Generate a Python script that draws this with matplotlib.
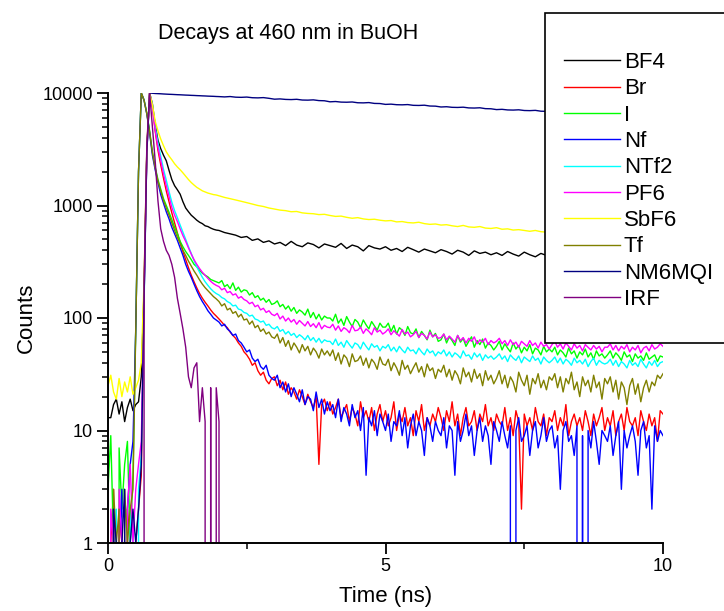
import numpy as np
import matplotlib
matplotlib.use("Agg")
from matplotlib import pyplot as plt
from matplotlib.patches import Rectangle
from matplotlib.ticker import LogLocator, NullFormatter, FixedLocator

plt.rcParams['font.family'] = ['Liberation Sans', 'DejaVu Sans']

# time channels (ns): 0.05 ns over the rise, then 0.1 ns (smooth curves)
# or 0.05 ns (noisy curves) over the tail
t_head = np.round(np.arange(0.0, 1.96, 0.05), 2)
time_ns = np.concatenate([t_head, np.round(np.arange(2.0, 10.0001, 0.1), 2)])
time_fine = np.concatenate([t_head, np.round(np.arange(2.0, 10.0001, 0.05), 2)])

labels = ["BF4", "Br", "I", "Nf", "NTf2", "PF6", "SbF6", "Tf", "NM6MQI", "IRF"]
colors = ["#000000", "#ff0000", "#00ff00", "#0000ff", "#00ffff",
          "#ff00ff", "#ffff00", "#808000", "#000080", "#800080"]

bf4 = [13, 13, 17, 19, 14, 18, 12, 16, 19, 15,
       17, 18, 30, 180, 3200, 10000, 8000, 5200, 3800, 3200,
       2800, 2500, 2050, 1700, 1500, 1380, 1260, 1080, 950, 880,
       820, 780, 740, 710, 690, 660, 650, 630, 615, 605,
       600, 575, 560, 545, 520, 530, 490, 505, 470, 485,
       455, 470, 440, 480, 445, 430, 465, 450, 420, 455,
       440, 425, 460, 415, 445, 430, 395, 440, 420, 410,
       430, 400, 415, 390, 425, 405, 385, 410, 395, 380,
       405, 390, 370, 400, 385, 360, 395, 375, 385, 365,
       380, 360, 390, 370, 355, 385, 365, 350, 375, 360,
       345, 370, 355, 340, 365, 350, 335, 360, 345, 330,
       355, 340, 325, 350, 335, 345, 320, 340, 330, 345,
       335]

br = [0, 1, 3, 0, 2, 1, 0, 2, 1, 0,
      1, 2, 4, 150, 3000, 10000, 7400, 4600, 3100, 2300,
      1750, 1350, 1080, 860, 700, 570, 470, 390, 330, 280,
      240, 210, 185, 165, 150, 138, 128, 118, 110, 104,
      98, 92, 86, 82, 75, 70, 66, 60, 56, 50, 47, 43, 38, 40, 34, 31, 33, 28, 26, 29,
      30, 25, 28, 23, 27, 21, 24, 22, 19, 23, 20, 17, 21, 18, 16, 20, 5, 17, 19, 15,
      18, 14, 16, 19, 13, 15, 17, 12, 16, 14, 11, 18, 13, 15, 12, 16, 10, 14, 17, 12,
      15, 11, 13, 18, 10, 14, 12, 16, 11, 13, 9, 15, 12, 17, 10, 13, 11, 14, 12, 16,
      13, 10, 15, 12, 18, 11, 14, 9, 13, 16, 11, 12, 15, 10, 14, 12, 17, 11, 13, 10,
      14, 12, 11, 16, 10, 13, 9, 15, 12, 2, 14, 11, 13, 10, 16, 12, 11, 14, 9, 13,
      12, 15, 10, 13, 11, 17, 9, 12, 14, 11, 13, 10, 15, 12, 9, 14, 11, 13, 16, 10,
      13, 11, 15, 9, 12, 14, 10, 16, 12, 11, 13, 9, 15, 12, 10, 14, 11, 13, 8, 15,
      14]

iodide = [3, 9, 1, 0, 7, 2, 5, 8, 1, 4,
          80, 2000, 10000, 8700, 6600, 4600, 3000, 2200, 1700, 1400,
          1150, 1000, 870, 750, 640, 560, 480, 430, 390, 360,
          330, 300, 285, 265, 250, 240, 232, 220, 215, 210,
          205, 215, 190, 198, 182, 205, 176, 188, 170, 178, 175, 160, 168, 152, 158, 144, 150, 138, 146, 132,
          135, 142, 126, 132, 120, 128, 115, 124, 110, 118, 113, 106, 120, 101, 112, 98, 108, 96, 104, 100,
          100, 94, 108, 90, 98, 86, 103, 92, 84, 97, 92, 82, 96, 87, 80, 93, 85, 78, 90, 83,
          83, 90, 76, 86, 72, 82, 78, 70, 84, 74, 72, 80, 67, 76, 70, 64, 78, 68, 73, 62,
          64, 72, 60, 68, 63, 57, 70, 61, 66, 56, 62, 68, 55, 63, 58, 65, 54, 60, 57, 52,
          56, 62, 52, 59, 54, 50, 60, 53, 57, 49, 55, 51, 58, 48, 54, 52, 47, 56, 50, 53,
          50, 55, 47, 52, 49, 45, 54, 48, 51, 44, 50, 47, 53, 45, 49, 43, 51, 46, 48, 44,
          47, 51, 44, 49, 46, 42, 50, 45, 47, 41, 48, 44, 46, 42, 49, 43, 45, 47, 41, 46,
          45]

nf = [1, 0, 2, 0, 1, 3, 0, 2, 5, 8,
      80, 2000, 10000, 8600, 6500, 4400, 2800, 2080, 1600, 1250,
      1050, 880, 760, 640, 560, 490, 420, 360, 300, 260,
      230, 200, 175, 155, 140, 128, 116, 108, 100, 96,
      92, 85, 88, 80, 76, 70, 72, 63, 60, 55, 50, 52, 44, 41, 43, 37, 35, 38, 31, 29,
      28, 31, 24, 27, 22, 26, 20, 24, 21, 18, 23, 17, 20, 19, 15, 22, 16, 19, 14, 18,
      15, 17, 13, 19, 12, 16, 14, 11, 17, 13, 15, 10, 16, 4, 13, 11, 15, 9, 14, 12,
      10, 14, 8, 12, 11, 15, 9, 13, 7, 11, 14, 9, 12, 10, 6, 13, 11, 8, 12, 10,
      9, 13, 7, 11, 10, 4, 12, 8, 10, 14, 9, 11, 6, 10, 13, 8, 11, 9, 5, 12,
      10, 8, 12, 9, 7, 11, 0, 10, 13, 8, 9, 11, 6, 10, 12, 7, 9, 13, 8, 10,
      11, 7, 9, 3, 10, 12, 8, 9, 6, 11, 0, 9, 0, 10, 7, 12, 8, 5, 10, 9,
      8, 11, 6, 9, 12, 3, 10, 7, 9, 11, 8, 4, 10, 12, 7, 9, 2, 11, 8, 10,
      9]

ntf2 = [0, 1, 0, 2, 0, 1, 1, 0, 2, 1,
        0, 3, 6, 140, 2900, 10000, 7800, 5000, 3600, 2750,
        2100, 1680, 1330, 1070, 900, 780, 670, 580, 500, 430,
        375, 325, 285, 255, 230, 210, 195, 182, 172, 165,
        160, 152, 148, 140, 136, 128, 130, 120, 118, 112, 110, 104, 106, 98, 96, 92, 94, 86, 88, 82,
        80, 84, 76, 79, 72, 76, 70, 73, 67, 71, 68, 64, 70, 63, 67, 61, 66, 60, 64, 62,
        62, 58, 65, 57, 61, 55, 63, 58, 54, 60, 58, 53, 61, 56, 52, 59, 55, 57, 51, 56,
        54, 58, 51, 55, 50, 56, 52, 49, 55, 51, 52, 48, 54, 50, 47, 53, 49, 51, 46, 50,
        48, 52, 46, 50, 45, 49, 47, 44, 51, 46, 47, 43, 49, 45, 48, 42, 47, 44, 46, 43,
        45, 48, 43, 46, 41, 47, 44, 42, 46, 40, 45, 43, 41, 46, 42, 44, 39, 45, 42, 40,
        42, 45, 40, 44, 39, 43, 41, 38, 44, 40, 42, 39, 43, 37, 41, 44, 38, 42, 40, 39,
        40, 43, 38, 42, 37, 41, 39, 36, 42, 38, 40, 37, 43, 39, 36, 41, 38, 42, 37, 40,
        41]

pf6 = [0, 2, 1, 0, 3, 1, 0, 2, 5, 1,
       3, 5, 8, 160, 3000, 10000, 7500, 4700, 3300, 2500,
       1900, 1500, 1200, 960, 820, 720, 620, 540, 480, 420,
       370, 330, 300, 275, 255, 240, 225, 212, 202, 195,
       190, 178, 184, 168, 172, 160, 164, 150, 155, 146, 142, 134, 138, 126, 130, 118, 122, 112, 116, 108,
       105, 110, 98, 104, 94, 100, 92, 97, 88, 95, 90, 85, 93, 84, 89, 82, 91, 80, 86, 83,
       82, 88, 78, 85, 76, 82, 79, 74, 86, 77, 78, 83, 73, 80, 76, 71, 82, 75, 78, 72,
       75, 80, 71, 77, 73, 69, 79, 72, 75, 68, 71, 76, 67, 73, 70, 65, 75, 68, 71, 66,
       67, 72, 64, 69, 65, 61, 70, 63, 67, 60, 66, 62, 68, 59, 64, 61, 66, 58, 63, 60,
       62, 66, 59, 63, 57, 64, 58, 61, 55, 62, 59, 56, 63, 57, 60, 54, 61, 56, 58, 53,
       58, 62, 55, 59, 53, 60, 56, 52, 59, 54, 57, 51, 58, 55, 52, 57, 53, 56, 50, 55,
       55, 59, 52, 57, 51, 56, 53, 58, 50, 55, 52, 57, 49, 54, 56, 51, 58, 53, 55, 59,
       56]

sbf6 = [25, 31, 22, 19, 29, 20, 27, 22, 30, 21,
        24, 28, 40, 220, 3300, 10000, 7800, 5600, 4600, 3900,
        3400, 3000, 2750, 2550, 2350, 2200, 2080, 1950, 1820, 1700,
        1600, 1520, 1450, 1400, 1350, 1320, 1290, 1270, 1250, 1240,
        1220, 1180, 1150, 1120, 1090, 1060, 1030, 1000, 980, 950,
        930, 910, 900, 880, 885, 860, 850, 845, 830, 835,
        815, 800, 805, 785, 770, 780, 760, 750, 755, 740,
        730, 735, 715, 720, 705, 700, 710, 690, 680, 685,
        670, 675, 660, 650, 665, 645, 640, 650, 630, 625,
        635, 615, 620, 605, 610, 600, 590, 600, 585, 580,
        575, 585, 565, 570, 560, 555, 565, 545, 550, 540,
        545, 535, 540, 525, 530, 520, 535, 515, 525, 520,
        515]

tf = [2, 0, 3, 1, 2, 0, 3, 1, 2, 3,
      80, 2000, 10000, 8600, 6500, 4500, 2950, 2150, 1650, 1350,
      1100, 950, 820, 700, 600, 520, 460, 400, 360, 320,
      290, 262, 240, 218, 200, 186, 175, 165, 155, 148,
      140, 128, 134, 118, 122, 110, 114, 102, 108, 96, 98, 88, 94, 82, 86, 76, 80, 72, 75, 68,
      66, 72, 60, 67, 56, 63, 52, 60, 55, 49, 58, 51, 56, 47, 54, 50, 44, 53, 47, 51,
      46, 52, 42, 49, 39, 47, 44, 37, 48, 41, 42, 46, 38, 44, 36, 43, 40, 35, 45, 39,
      38, 43, 34, 40, 36, 31, 42, 35, 38, 32, 36, 40, 33, 37, 30, 39, 34, 36, 29, 35,
      33, 38, 30, 35, 28, 34, 31, 26, 36, 30, 33, 27, 35, 29, 32, 25, 34, 28, 31, 26,
      29, 34, 26, 31, 24, 30, 27, 22, 33, 28, 25, 31, 21, 29, 26, 32, 24, 28, 23, 30,
      28, 32, 24, 30, 22, 29, 26, 33, 23, 27, 20, 30, 25, 28, 22, 31, 24, 27, 19, 29,
      26, 30, 22, 28, 19, 27, 24, 17, 25, 29, 21, 26, 18, 24, 28, 22, 27, 25, 31, 29,
      32]

nm6mqi = [1, 0, 2, 1, 0, 1, 3, 0, 1, 2,
          1, 2, 5, 150, 3000, 10000, 9950, 9900, 9870, 9840,
          9800, 9770, 9740, 9720, 9690, 9660, 9640, 9610, 9580, 9560,
          9530, 9510, 9480, 9460, 9430, 9410, 9380, 9360, 9340, 9310,
          9290, 9230, 9300, 9180, 9150, 9200, 9080, 9050, 9100, 8970,
          8810, 8860, 8770, 8740, 8790, 8660, 8640, 8690, 8560, 8530,
          8350, 8400, 8300, 8280, 8320, 8190, 8170, 8220, 8080, 8060,
          7920, 7960, 7870, 7850, 7890, 7770, 7750, 7790, 7660, 7640,
          7510, 7550, 7460, 7440, 7480, 7370, 7350, 7390, 7260, 7240,
          7120, 7160, 7070, 7050, 7090, 6990, 6970, 7010, 6890, 6870,
          6750, 6790, 6710, 6690, 6730, 6630, 6610, 6650, 6530, 6510,
          6400, 6440, 6360, 6340, 6380, 6280, 6260, 6300, 6180, 6160,
          6070]

irf = [0, 0, 1, 0, 0, 0, 1, 0, 0, 1,
       0, 0, 0, 200, 3500, 10000, 5000, 2500, 1100, 620,
       480, 400, 360, 300, 230, 150, 110, 80, 55, 30,
       24, 36, 40, 12, 24, 12, 0, 24, 0, 24,
       12, 0]

series = [bf4, br, iodide, nf, ntf2, pf6, sbf6, tf, nm6mqi, irf]


def time_for(values):
    if len(values) == len(time_fine):
        return time_fine
    return time_ns[:len(values)]


def create_plot():
    fig = plt.figure(figsize=(7.24, 6.11), dpi=100)
    ax = fig.add_axes([108 / 724, 1 - 543 / 611, 555 / 724, 450 / 611])

    for values, label, color in zip(series, labels, colors):
        ax.plot(time_for(values), values, c=color, lw=1.0, label=label)

    ax.set_yscale("log")
    ax.set_xlim(0, 10)
    ax.set_ylim(1, 10000)
    ax.set_yticks([1, 10, 100, 1000, 10000])
    ax.set_yticklabels(["1", "10", "100", "1000", "10000"])
    ax.yaxis.set_minor_locator(LogLocator(base=10, subs=np.arange(2, 10)))
    ax.yaxis.set_minor_formatter(NullFormatter())
    ax.set_xticks([0, 5, 10])
    ax.set_xticklabels(["0", "5", "10"])
    ax.xaxis.set_minor_locator(FixedLocator([2.5, 7.5]))

    for side in ("top", "right"):
        ax.spines[side].set_visible(False)
    for side in ("left", "bottom"):
        ax.spines[side].set_linewidth(1.4)
    ax.tick_params(which="major", direction="out", length=8, width=1.3,
                   labelsize=13, pad=3)
    ax.tick_params(which="minor", direction="out", length=4, width=1.1)

    ax.set_xlabel("Time (ns)", fontsize=16, labelpad=8)
    ax.set_ylabel("Counts", fontsize=16, labelpad=4)
    fig.text(288 / 724, 1 - 33 / 611, "Decays at 460 nm in BuOH",
             fontsize=15.5, ha="center", va="center")

    # legend box hanging over the top right corner
    box = Rectangle((545 / 724, 1 - 343 / 611), 0.3, 330 / 611,
                    transform=fig.transFigure, facecolor="white",
                    edgecolor="black", lw=1.2, zorder=4)
    fig.patches.append(box)
    handles, names = ax.get_legend_handles_labels()
    leg = fig.legend(handles, names, loc="upper left",
                     bbox_to_anchor=(564 / 724, 1 - 52 / 611),
                     frameon=False, fontsize=16, handlelength=2.5,
                     handletextpad=0.2, labelspacing=0.24, borderpad=0,
                     borderaxespad=0)
    leg.set_zorder(5)
    for line in leg.get_lines():
        line.set_linewidth(1.0)

    fig.savefig("out.png", dpi=100)
    plt.close(fig)


def main():
    create_plot()


if __name__ == "__main__":
    main()
